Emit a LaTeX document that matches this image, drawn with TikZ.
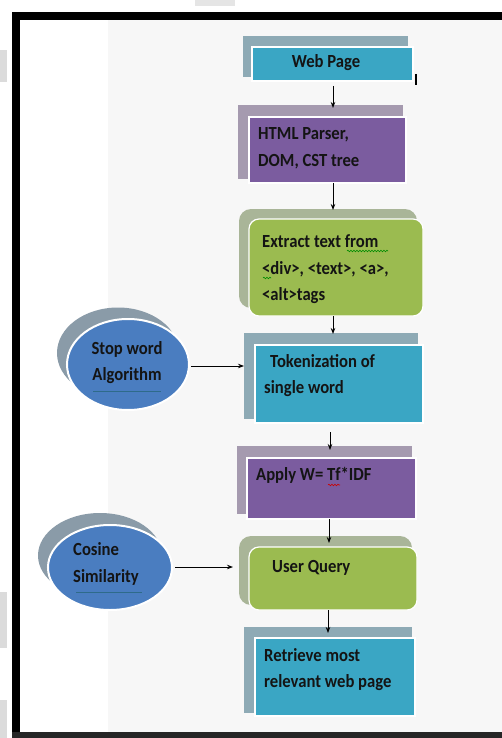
\documentclass[tikz,border=0pt]{standalone}
\usepackage{fontspec}
\newfontfamily\lbl[FakeStretch=0.9]{Carlito}
\usetikzlibrary{shapes.geometric,arrows.meta,decorations.pathmorphing}
\definecolor{tealM}{HTML}{3AA6C4}
\definecolor{tealS}{HTML}{8EAAB5}
\definecolor{purpM}{HTML}{7B5C9F}
\definecolor{purpS}{HTML}{A59AAF}
\definecolor{grnM}{HTML}{9BBB50}
\definecolor{grnS}{HTML}{A9B598}
\definecolor{bluM}{HTML}{4A7DC0}
\definecolor{bluS}{HTML}{8A9BA8}
\definecolor{bgG}{HTML}{F7F7F7}
\definecolor{ulC}{HTML}{2E6B8A}
\definecolor{txt}{HTML}{141414}
\tikzset{
  boxS/.style={rectangle, inner sep=0, outer sep=0},
  boxM/.style={rectangle, inner sep=0, outer sep=0, draw=white, line width=1.2pt},
  rboxS/.style={rectangle, rounded corners=12pt, inner sep=0, outer sep=0},
  rboxM/.style={rectangle, rounded corners=10pt, inner sep=0, outer sep=0, draw=white, line width=1.2pt},
  ellS/.style={ellipse, inner sep=0, outer sep=0, fill=bluS},
  ellM/.style={ellipse, inner sep=0, outer sep=0, fill=bluM, draw=white, line width=2pt},
  lab/.style={anchor=base west, inner sep=0, text=txt, font=\lbl\bfseries\fontsize{18.5}{22}\selectfont},
  labc/.style={anchor=base, inner sep=0, text=txt, font=\lbl\bfseries\fontsize{18.5}{22}\selectfont},
  arr/.style={-{Stealth[length=6pt,width=4.5pt]}, line width=0.9pt, black},
}
\begin{document}
\begin{tikzpicture}[x=1pt,y=-1pt]
\useasboundingbox (0,0) rectangle (502,738);
\fill[white] (0,0) rectangle (502,738);
% scan artefacts
\fill[black!14] (0,50) rectangle (7,82);
\fill[black!14] (0,592) rectangle (7,648);
\fill[black!14] (0,700) rectangle (7,738);
\fill[black!10] (195,0) rectangle (235,6);
% page background
\fill[bgG] (108,20) rectangle (502,732);
% frame
\fill[black] (12,12) rectangle (502,20);
\fill[black] (12,12) rectangle (20,738);
\fill[black!85] (12,732) rectangle (502,738);

% Web Page
\node[boxS, fill=tealS, minimum width=165pt, minimum height=41pt] (webS) at (325.5,56.5) {};
\node[boxM, fill=tealM, minimum width=161pt, minimum height=34pt] (web) at (332.5,64) {};
\node[labc] (webT) at (326,68) {Web Page};
\draw[black, line width=2pt] (416,74) -- (416,85);

% HTML Parser
\node[boxS, fill=purpS, minimum width=165pt, minimum height=74pt] (htmlS) at (320.5,142) {};
\node[boxM, fill=purpM, minimum width=157pt, minimum height=66pt] (html) at (327.5,150) {};
\node[lab] (htmlT1) at (258,140) {HTML Parser,};
\node[lab] (htmlT2) at (258,167) {DOM, CST tree};

% Extract
\node[rboxS, fill=grnS, minimum width=178pt, minimum height=99pt] (extS) at (328,258.5) {};
\node[rboxM, fill=grnM, minimum width=174pt, minimum height=97pt] (ext) at (336,267.5) {};
\node[lab] (extT1) at (262,247) {Extract text from};
\node[lab] (extT2) at (262,274) {<div>, <text>, <a>,};
\node[lab] (extT3) at (262,300) {<alt>tags};
\draw[green!55!black, line width=0.6pt, decorate, decoration={snake, amplitude=0.8pt, segment length=3pt}] (347,251) -- (388,251);
\draw[green!55!black, line width=0.6pt, decorate, decoration={snake, amplitude=0.8pt, segment length=3pt}] (263,278) -- (271,278);

% Tokenization
\node[boxS, fill=tealS, minimum width=174pt, minimum height=86pt] (tokS) at (331,376) {};
\node[boxM, fill=tealM, minimum width=168pt, minimum height=78pt] (tok) at (339,384) {};
\node[lab] (tokT1) at (270,367) {Tokenization of};
\node[lab] (tokT2) at (264,393) {single word};

% Stop word ellipse
\node[ellS, minimum width=122pt, minimum height=91pt] (stopS) at (118,353) {};
\node[ellM, minimum width=122pt, minimum height=91pt] (stop) at (128,364.5) {};
\node[labc] (stopT1) at (127,354) {Stop word};
\node[labc] (stopT2) at (127,380) {Algorithm};
\draw[ulC, line width=1pt] (93,391) -- (161,391);

% Apply
\node[boxS, fill=purpS, minimum width=175pt, minimum height=68pt] (appS) at (324.5,480) {};
\node[boxM, fill=purpM, minimum width=169pt, minimum height=61pt] (app) at (331.5,488.5) {};
\node[lab] (appT) at (256,480) {Apply W= Tf*IDF};
\draw[red!80!black, line width=0.6pt, decorate, decoration={snake, amplitude=0.8pt, segment length=3pt}] (328,485) -- (340,485);

% User Query
\node[rboxS, fill=grnS, minimum width=173pt, minimum height=69pt] (usrS) at (325.5,570.5) {};
\node[rboxM, fill=grnM, minimum width=168pt, minimum height=63pt] (usr) at (333,578.5) {};
\node[lab] (usrT) at (272,572) {User Query};

% Cosine ellipse
\node[ellS, minimum width=124pt, minimum height=85pt] (cosS) at (100,555.5) {};
\node[ellM, minimum width=124pt, minimum height=85pt] (cos) at (110,567.5) {};
\node[lab] (cosT1) at (73,555) {Cosine};
\node[lab] (cosT2) at (73,582) {Similarity};
\draw[ulC, line width=1pt] (76,592) -- (142,592);

% Retrieve
\node[boxS, fill=tealS, minimum width=168pt, minimum height=86pt] (retS) at (328,670) {};
\node[boxM, fill=tealM, minimum width=160pt, minimum height=78pt] (ret) at (335,677) {};
\node[lab] (retT1) at (264,661) {Retrieve most};
\node[lab] (retT2) at (264,687) {relevant web  page};

% arrow x positions
\coordinate (x1) at (333,0);
\coordinate (x2) at (333,0);
\coordinate (x3) at (333,0);
\coordinate (x4) at (330,0);
\coordinate (x5) at (329,0);
\coordinate (x6) at (328,0);
\draw[arr, shorten <=5pt, shorten >=-3pt] (x1 |- web.south) -- (x1 |- htmlS.north);
\draw[arr, shorten >=-1pt] (x2 |- html.south) -- (x2 |- extS.north);
\draw[arr, shorten >=-1pt] (x3 |- ext.south) -- (x3 |- tokS.north);
\draw[arr, shorten <=9pt, shorten >=-4pt] (x4 |- tok.south) -- (x4 |- appS.north);
\draw[arr, shorten >=-7pt] (x5 |- app.south) -- (x5 |- usrS.north);
\draw[arr, shorten >=-6pt] (x6 |- usr.south) -- (x6 |- retS.north);
\draw[arr, shorten <=2pt] (stop.east |- 0,366) -- (tokS.west |- 0,366);
\draw[arr, shorten <=3pt, shorten >=6pt] (cos.east |- 0,567) -- (usrS.west |- 0,567);
\end{tikzpicture}
\end{document}
